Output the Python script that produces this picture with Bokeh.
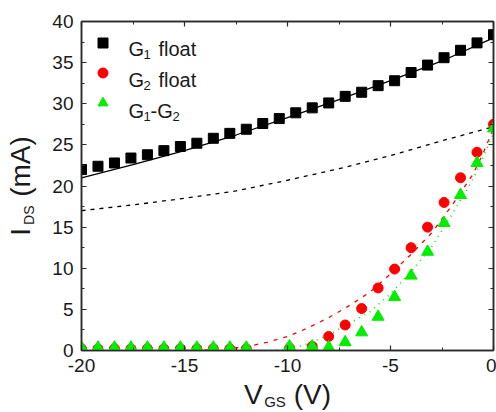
import math
from bokeh.plotting import figure
from bokeh.models import (Range1d, LinearAxis, Label, Legend, LegendItem,
                          SingleIntervalTicker, FixedTicker, PrintfTickFormatter)
from bokeh.embed import file_html
from bokeh.resources import INLINE

# ---- data ----
vgs_g1 = [-20.0, -19.2, -18.4, -17.6, -16.8, -16.0, -15.2, -14.4, -13.6, -12.8,
          -12.0, -11.2, -10.4, -9.6, -8.8, -8.0, -7.2, -6.4, -5.6, -4.8,
          -4.0, -3.2, -2.4, -1.6, -0.8, 0.0]
ids_g1_float = [22.0, 22.4, 22.8, 23.4, 23.8, 24.3, 24.8, 25.2, 25.8, 26.4,
                26.9, 27.6, 28.2, 28.9, 29.5, 30.1, 30.9, 31.4, 32.2, 32.8,
                33.8, 34.7, 35.6, 36.5, 37.4, 38.4]

vgs_g2 = [-20.0, -19.2, -18.4, -17.6, -16.8, -16.0, -15.2, -14.4, -13.6, -12.8,
          -12.0, -9.9, -8.8, -8.0, -7.2, -6.4, -5.6, -4.8, -4.0, -3.2,
          -2.4, -1.6, -0.8, 0.0]
ids_g2_float = [0.2, 0.2, 0.2, 0.2, 0.2, 0.2, 0.2, 0.2, 0.2, 0.2,
                0.2, 0.3, 0.5, 1.7, 3.1, 5.1, 7.6, 9.9, 12.5, 15.0,
                18.0, 21.0, 24.1, 27.5]
ids_g1_g2 = [0.35, 0.35, 0.35, 0.35, 0.35, 0.35, 0.35, 0.35, 0.35, 0.35,
             0.35, 0.5, 0.5, 0.4, 1.0, 2.2, 4.1, 6.5, 9.1, 12.0,
             15.5, 18.9, 22.8, 27.0]

fit_v = [-20.0, -17.5, -15.0, -12.5, -10.0, -7.5, -5.0, -2.5, 0.0]
fit_g1_float = [21.0, 22.6, 24.3, 26.2, 28.3, 30.5, 32.8, 35.2, 38.0]
fit_dashed = [17.0, 17.7, 18.5, 19.4, 20.7, 22.1, 23.7, 25.5, 27.2]

fit_g2_v = [-15, -14, -13, -12, -11, -10, -9, -8, -7, -6, -5, -4, -3, -2, -1, -0.5, 0]
fit_g2_float = [0.0, 0.05, 0.2, 0.45, 1.0, 1.7, 2.75, 4.0, 5.45, 7.1, 9.3, 11.7,
                14.3, 17.7, 21.4, 24.0, 27.0]

fit_g12_v = [-12, -11, -10, -9, -8, -7, -6, -5, -4, -3, -2, -1, -0.5, 0]
fit_g1_g2 = [0.0, 0.0, 0.1, 0.8, 1.9, 3.3, 4.7, 6.9, 9.6, 12.6, 16.6, 20.8, 23.5, 26.5]

FONT = "Liberation Sans"
TXT = "#1a1a1a"
AX = "#2a2a2a"
RED = "#ff0000"
GREEN = "#00ee00"
NB = "\u00a0"

p = figure(width=496, height=412, output_backend="svg", toolbar_location=None,
           x_range=Range1d(-20, 0), y_range=Range1d(0, 40),
           min_border_left=81, min_border_right=3, min_border_top=21,
           min_border_bottom=61)
p.grid.visible = False
p.outline_line_color = AX
p.outline_line_width = 1.5
p.background_fill_color = "white"
p.border_fill_color = "white"


def style_axis(ax, show_labels):
    ax.ticker = SingleIntervalTicker(interval=5, num_minor_ticks=2)
    ax.axis_line_color = AX
    ax.axis_line_width = 1.5
    ax.major_tick_line_color = AX
    ax.minor_tick_line_color = AX
    ax.major_tick_line_width = 1.2
    ax.minor_tick_line_width = 1.0
    ax.major_tick_in = 5
    ax.major_tick_out = 0
    ax.minor_tick_in = 3
    ax.minor_tick_out = 0
    if show_labels:
        ax.formatter = PrintfTickFormatter(format="%d")
        ax.major_label_text_font = FONT
        ax.major_label_text_font_size = "19px"
        ax.major_label_text_color = TXT
        ax.major_label_standoff = 8
    else:
        ax.major_label_text_font_size = "1px"
        ax.major_label_text_alpha = 0
        ax.major_label_standoff = 0


def title_axis(ax, text, size, standoff):
    ax.ticker = FixedTicker(ticks=[], minor_ticks=[])
    ax.axis_line_color = None
    ax.major_tick_line_color = None
    ax.minor_tick_line_color = None
    ax.major_label_standoff = 0
    ax.major_tick_in = 0
    ax.major_tick_out = 0
    ax.minor_tick_in = 0
    ax.minor_tick_out = 0
    ax.axis_label = text
    ax.axis_label_text_font = FONT
    ax.axis_label_text_font_style = "normal"
    ax.axis_label_text_font_size = size
    ax.axis_label_text_color = TXT
    ax.axis_label_standoff = standoff


xa = p.xaxis[0]
ya = p.yaxis[0]
style_axis(xa, True)
style_axis(ya, True)
top = LinearAxis()
right = LinearAxis()
style_axis(top, False)
style_axis(right, False)
p.add_layout(top, "above")
p.add_layout(right, "right")

# x title: "V" + gap + "(V)" on the main axis, subscript "GS" on a 2nd axis
xa.axis_label = "V" + NB * 4 + "(V)"
xa.axis_label_text_font = FONT
xa.axis_label_text_font_style = "normal"
xa.axis_label_text_font_size = "28px"
xa.axis_label_text_color = TXT
xa.axis_label_standoff = 4
x_sub = LinearAxis()
title_axis(x_sub, "GS" + NB * 6, "15px", -20)
p.add_layout(x_sub, "below")

# y title: subscript "DS" on the main axis, "I" + gap + "(mA)" on a 2nd axis
ya.axis_label = "DS" + NB * 15
ya.axis_label_text_font = FONT
ya.axis_label_text_font_style = "normal"
ya.axis_label_text_font_size = "14px"
ya.axis_label_text_color = TXT
ya.axis_label_standoff = 12
y_main = LinearAxis()
title_axis(y_main, "I" + NB * 4 + "(mA)", "28px", -17)
p.add_layout(y_main, "left")

# fit lines
p.line(fit_v, fit_g1_float, line_color="black", line_width=1.3)
p.line(fit_v, fit_dashed, line_color="black", line_width=1.3, line_dash="4 5")
p.line(fit_g2_v, fit_g2_float, line_color=RED, line_width=1.3, line_dash="4 6")
p.line(fit_g12_v, fit_g1_g2, line_color=GREEN, line_width=1.6, line_dash="1 5")

# data markers
r1 = p.scatter(vgs_g1, ids_g1_float, marker="square", size=10,
               fill_color="black", line_color="black")
r2 = p.scatter(vgs_g2, ids_g2_float, marker="circle", size=10,
               fill_color=RED, line_color=RED)
r3 = p.scatter(vgs_g2, ids_g1_g2, marker="triangle", size=12,
               fill_color=GREEN, line_color=GREEN)

legend = Legend(items=[LegendItem(label=" ", renderers=[r1]),
                       LegendItem(label=" ", renderers=[r2]),
                       LegendItem(label=" ", renderers=[r3])],
                location=(8.5, 235.5), orientation="vertical",
                glyph_width=25, glyph_height=25, spacing=5, padding=0, margin=0,
                label_text_font_size="1px", label_standoff=0,
                background_fill_alpha=0, border_line_alpha=0)
p.add_layout(legend)


def lab(text, x, y, size):
    p.add_layout(Label(x=x, y=y, x_units="screen", y_units="screen", text=text,
                       text_font=FONT, text_font_size=size, text_color=TXT,
                       text_align="left", text_baseline="alphabetic"))


# legend texts (frame-relative screen coords; frame left=81, bottom=351)
for (sub, by) in (("1", 49), ("2", 80)):
    lab("G", 128 - 81, 351 - by, "20px")
    lab(sub, 143 - 81, 351 - (by + 6), "13px")
    lab("float", 158 - 81, 351 - by, "20px")
lab("G", 128 - 81, 351 - 111, "20px")
lab("1", 143 - 81, 351 - 117, "13px")
lab("-G", 150 - 81, 351 - 111, "20px")
lab("2", 172 - 81, 351 - 117, "13px")

open("out.html", "w").write(file_html(p, INLINE))
